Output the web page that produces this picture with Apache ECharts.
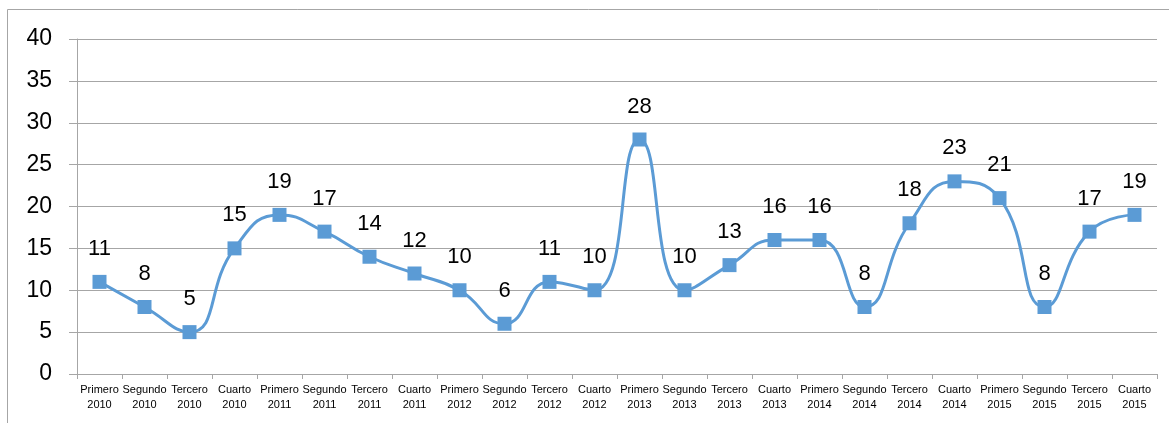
<!DOCTYPE html>
<html>
<head>
<meta charset="utf-8">
<script src="https://cdn.jsdelivr.net/npm/echarts@6/dist/echarts.min.js"></script>
<style>html,body{margin:0;padding:0;background:#fff}#c{width:1169px;height:423px}</style>
</head>
<body>
<div id="c"></div>
<script>
const quarters = ['Primero', 'Segundo', 'Tercero', 'Cuarto'];
const years = ['2010', '2011', '2012', '2013', '2014', '2015'];
const categories = [];
years.forEach(y => quarters.forEach(q => categories.push(q + '\n' + y)));
const values = [11, 8, 5, 15, 19, 17, 14, 12, 10, 6, 11, 10, 28, 10, 13, 16, 16, 8, 18, 23, 21, 8, 17, 19];
const yTicks = [0, 5, 10, 15, 20, 25, 30, 35, 40];

const grey = '#a6a6a6';
const chart = echarts.init(document.getElementById('c'));
chart.setOption({
  animation: false,
  textStyle: { fontFamily: 'Liberation Sans' },
  grid: { left: 77, right: 12, top: 39, bottom: 49 },
  graphic: [{
    type: 'polyline',
    shape: { points: [[7.5, 423], [7.5, 9.5], [1169, 9.5]] },
    style: { stroke: grey, lineWidth: 1, fill: null }
  }],
  xAxis: {
    type: 'category',
    data: categories,
    boundaryGap: true,
    axisLine: { lineStyle: { color: grey, width: 1 } },
    axisTick: { show: true, length: 5, alignWithLabel: false, lineStyle: { color: grey } },
    axisLabel: { interval: 0, fontSize: 11, color: '#000', lineHeight: 15, margin: 8, fontFamily: 'Liberation Sans' }
  },
  yAxis: {
    type: 'value',
    min: yTicks[0], max: yTicks[yTicks.length - 1], interval: 5,
    axisLine: { show: true, lineStyle: { color: grey, width: 1 } },
    axisTick: { show: true, length: 8, lineStyle: { color: grey } },
    axisLabel: { fontSize: 23, color: '#000', margin: 25, fontFamily: 'Liberation Sans' },
    splitLine: { show: true, lineStyle: { color: grey, width: 1 } }
  },
  series: [{
    type: 'line',
    data: values,
    smooth: 0.5,
    symbol: 'rect',
    symbolSize: 14,
    itemStyle: { color: '#5B9BD5' },
    lineStyle: { color: '#5B9BD5', width: 3 },
    label: { show: true, position: 'top', distance: 15, fontSize: 22, color: '#000', fontFamily: 'Liberation Sans' }
  }]
});
</script>
</body>
</html>
